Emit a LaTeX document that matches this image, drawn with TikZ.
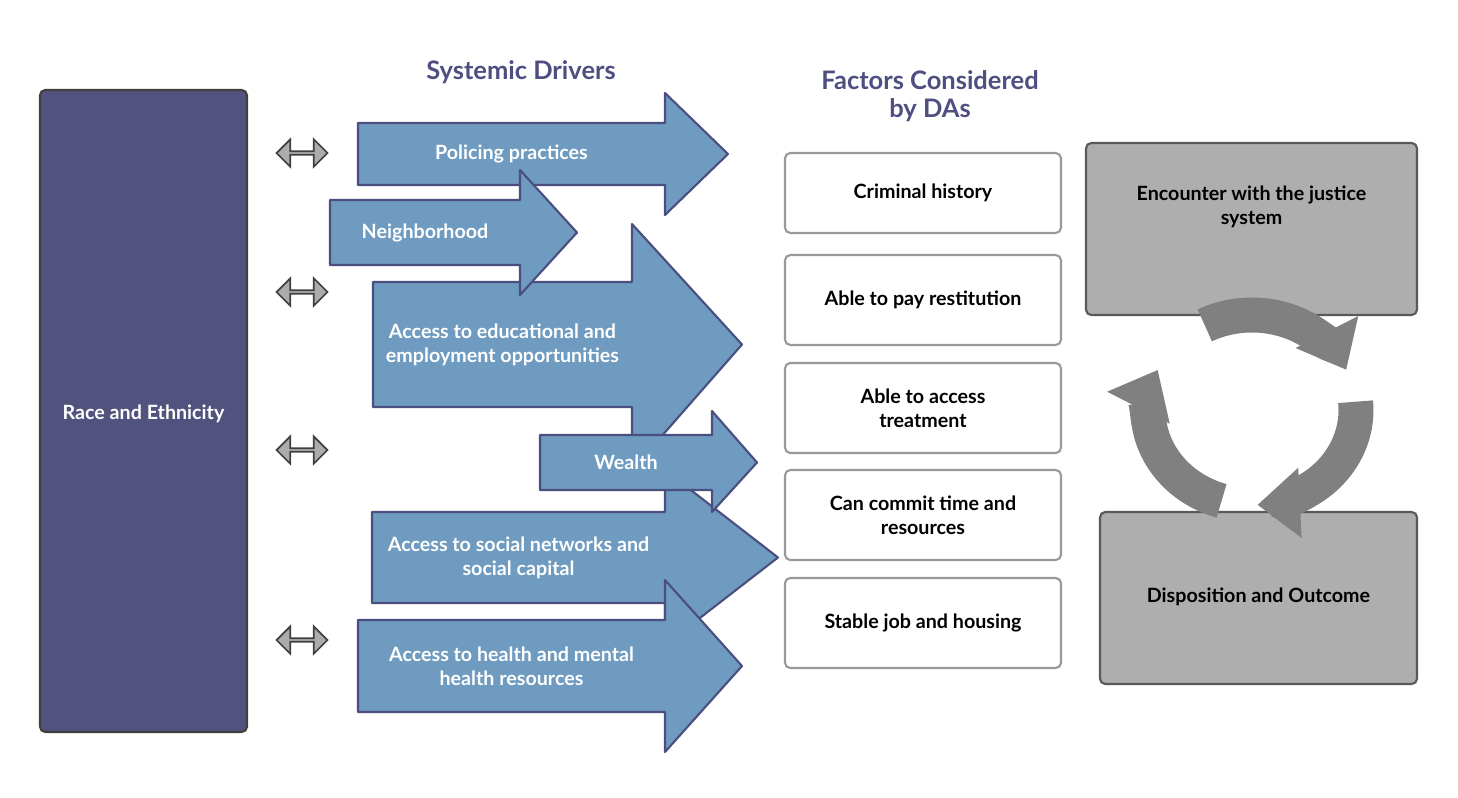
\documentclass[tikz,border=0pt]{standalone}
\usepackage{fontspec}
\setmainfont{Lato}
\usetikzlibrary{positioning,calc,shapes.arrows,arrows.meta}
\definecolor{racefill}{HTML}{52527F}
\definecolor{titlecol}{HTML}{4E4E80}
\definecolor{driverfill}{HTML}{6E9BBF}
\definecolor{driverline}{HTML}{4A4F80}
\definecolor{stagefill}{HTML}{AEAEAE}
\definecolor{cyclecol}{HTML}{808080}
\tikzset{
  title/.style={text=titlecol, font=\bfseries\fontsize{14.5}{16}\selectfont, align=center},
  label/.style={font=\bfseries\fontsize{11.2}{13.5}\selectfont, align=center},
  driver/.style={fill=driverfill, draw=driverline, line width=1.2pt, line join=round},
  factor/.style={draw=gray!80, line width=1.2pt, rounded corners=3pt, fill=white},
  stage/.style={draw=gray!130, fill=stagefill, line width=1.2pt, rounded corners=3pt},
  link/.style={double arrow, double arrow head extend=0.12cm, fill=gray!65, draw=gray!150,
    line width=1pt, minimum height=1.02cm, minimum width=0.55cm, inner sep=0pt},
  cycle/.style={draw=cyclecol, line width=0.7cm, -{Triangle[width=1.35cm,length=0.85cm]}}
}
% driver arrow: name, x left, y top, y bottom, x neck, head top, head bottom, x tip, text
\newcommand\driverarrow[9]{%
  \draw[driver] (#2,#3) -- (#5,#3) -- (#5,#6) -- (#8,{(#3+#4)/2}) -- (#5,#7) -- (#5,#4) -- (#2,#4) -- cycle;
  \node[label, text=white] (#1) at ({(#2+#5)/2},{(#3+#4)/2}) {#9};}
\begin{document}
\begin{tikzpicture}[x=0.02cm, y=-0.02cm]
  \useasboundingbox (0,0) rectangle (1458,798);
  % race and ethnicity
  \draw[fill=racefill, draw=gray!150, line width=1.2pt, rounded corners=3pt] (40,90) rectangle (247,732);
  \node[label, text=white] (race) at (143.5,414) {Race and Ethnicity};
  % titles
  \node[title] (drivers) at (521,72) {Systemic Drivers};
  \node[title] (factors) at (930,96) {Factors Considered\\by DAs};
  % links
  \foreach \y/\n in {153/1, 292/2, 450/3, 640/4}
    \node[link] (link\n) at (302,\y) {};
  % drivers
  \driverarrow{police}{358}{123}{185}{665}{93}{215}{728}{Policing practices}
  \driverarrow{edu}{373}{282}{407}{632}{224}{470}{742}{Access to educational and\\employment opportunities}
  \driverarrow{hood}{330}{200}{265}{520}{170}{295}{577}{Neighborhood}
  \driverarrow{social}{372}{512}{603}{665}{470}{645}{778}{Access to social networks and\\social capital}
  \driverarrow{wealth}{540}{435}{490}{712}{411}{512}{757}{Wealth}
  \driverarrow{health}{358}{620}{712}{665}{580}{752}{742}{Access to health and mental\\health resources}
  % factors
  \foreach \t/\b/\n/\txt in {153/233/1/Criminal history, 255/345/2/Able to pay restitution,
      363/453/3/{Able to access\\treatment}, 470/560/4/{Can commit time and\\resources},
      578/668/5/Stable job and housing} {
    \draw[factor] (785,\t) rectangle (1061,\b);
    \node[label] (factor\n) at (923,{(\t+\b)/2}) {\txt};
  }
  % stages
  \draw[stage] (1086,143) rectangle (1417,315);
  \node[label] (encounter) at (1251.5,229) [yshift=0.45cm] {Encounter with the justice\\system};
  \draw[stage] (1100,512) rectangle (1417,684);
  \node[label] (outcome) at (1258.5,597) {Disposition and Outcome};
  % cycle
  \coordinate (hub) at (1252,410);
  \draw[cycle] ($(hub)+(-117:104 and 95)$) arc[start angle=-117, end angle=-25, x radius=104, y radius=95];
  \draw[cycle] ($(hub)+(-5:104 and 95)$) arc[start angle=-5, end angle=87, x radius=104, y radius=95];
  \draw[cycle] ($(hub)+(107:104 and 95)$) arc[start angle=107, end angle=205, x radius=104, y radius=95];
\end{tikzpicture}
\end{document}
